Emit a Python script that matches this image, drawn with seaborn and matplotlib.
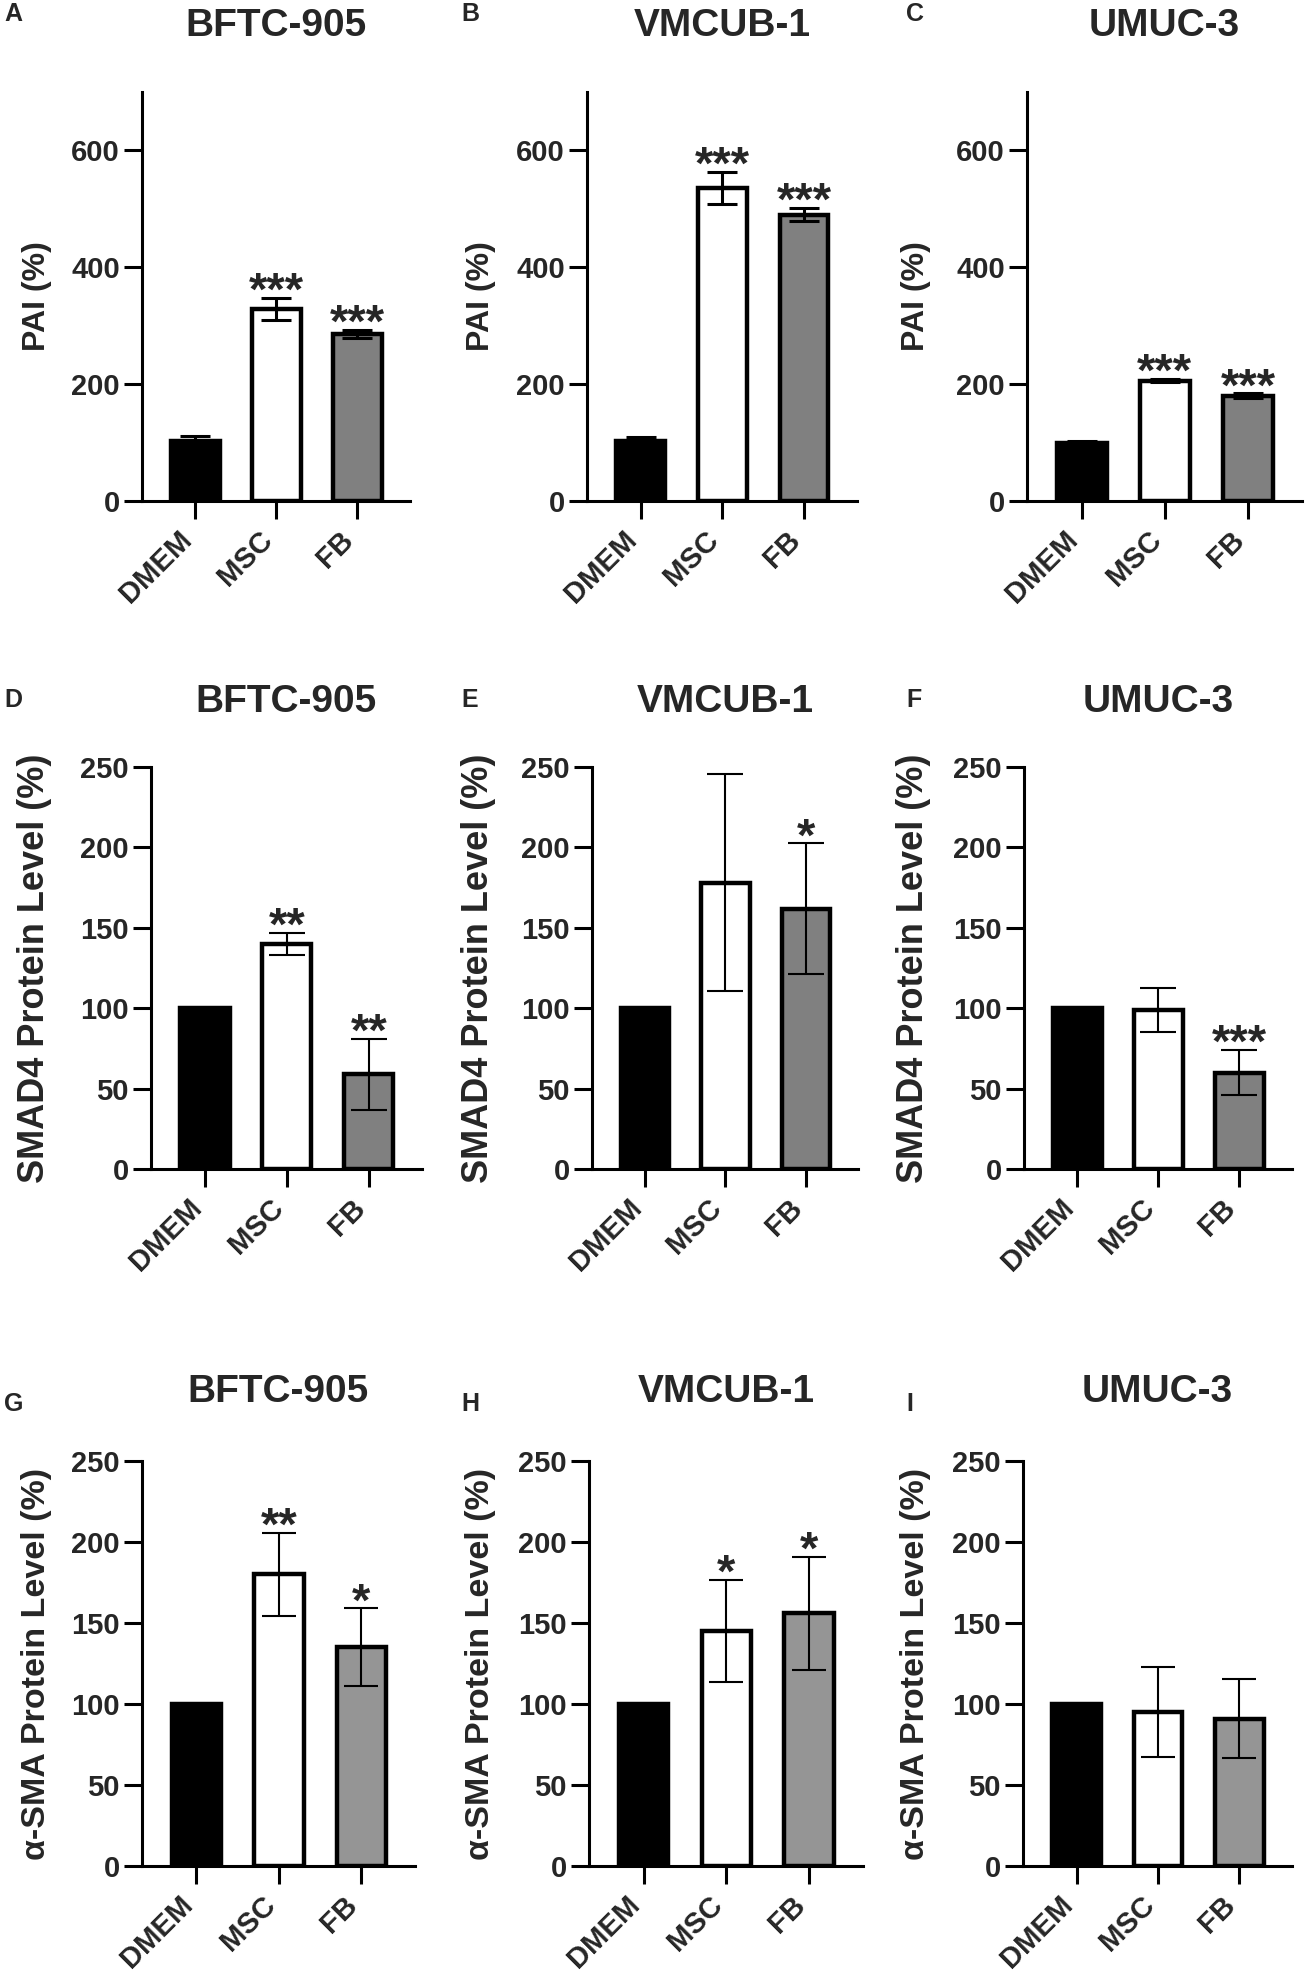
import matplotlib
matplotlib.use("Agg")
import matplotlib.pyplot as plt
import seaborn as sns
import pandas as pd
import numpy as np
from matplotlib.transforms import ScaledTranslation

# ---------------- data ----------------
groups = ["DMEM", "MSC", "FB"]
cell_lines = ["BFTC-905", "VMCUB-1", "UMUC-3"]
panel_letters = ["A", "B", "C", "D", "E", "F", "G", "H", "I"]

# PAI (%)
pai_bftc_mean = [103, 328, 286]
pai_bftc_err = [8, 19, 7]
pai_bftc_sig = ["", "***", "***"]
pai_vmcub_mean = [102, 536, 490]
pai_vmcub_err = [7, 27, 11]
pai_vmcub_sig = ["", "***", "***"]
pai_umuc_mean = [100, 206, 180]
pai_umuc_err = [3, 3, 4]
pai_umuc_sig = ["", "***", "***"]

# SMAD4 Protein Level (%)
smad4_bftc_mean = [100, 140, 59]
smad4_bftc_err = [0, 7, 22]
smad4_bftc_sig = ["", "**", "**"]
smad4_vmcub_mean = [100, 178, 162]
smad4_vmcub_err = [0, 67.5, 40.5]
smad4_vmcub_sig = ["", "", "*"]
smad4_umuc_mean = [100, 99, 60]
smad4_umuc_err = [0, 13.5, 14]
smad4_umuc_sig = ["", "", "***"]

# alpha-SMA Protein Level (%)
asma_bftc_mean = [100, 180, 135]
asma_bftc_err = [0, 25.5, 24]
asma_bftc_sig = ["", "**", "*"]
asma_vmcub_mean = [100, 145, 156]
asma_vmcub_err = [0, 31.5, 35]
asma_vmcub_sig = ["", "*", "*"]
asma_umuc_mean = [100, 95, 91]
asma_umuc_err = [0, 28, 24.5]
asma_umuc_sig = ["", "", ""]

row_ylabels = ["PAI (%)", "SMAD4 Protein Level (%)", "α-SMA Protein Level (%)"]
row_ylim = [700, 250, 250]
row_yticks = [[0, 200, 400, 600], [0, 50, 100, 150, 200, 250], [0, 50, 100, 150, 200, 250]]

rows = [
    [(pai_bftc_mean, pai_bftc_err, pai_bftc_sig),
     (pai_vmcub_mean, pai_vmcub_err, pai_vmcub_sig),
     (pai_umuc_mean, pai_umuc_err, pai_umuc_sig)],
    [(smad4_bftc_mean, smad4_bftc_err, smad4_bftc_sig),
     (smad4_vmcub_mean, smad4_vmcub_err, smad4_vmcub_sig),
     (smad4_umuc_mean, smad4_umuc_err, smad4_umuc_sig)],
    [(asma_bftc_mean, asma_bftc_err, asma_bftc_sig),
     (asma_vmcub_mean, asma_vmcub_err, asma_vmcub_sig),
     (asma_umuc_mean, asma_umuc_err, asma_umuc_sig)],
]

# ---------------- style ----------------
sns.set_style("ticks")
plt.rcParams["font.family"] = ["Liberation Sans", "DejaVu Sans"]
plt.rcParams["font.weight"] = "bold"
plt.rcParams["axes.labelweight"] = "bold"

W, H = 1305, 1978
DPI = 100
fig = plt.figure(figsize=(W / DPI, H / DPI), dpi=DPI)

# layout in pixels: (left, right) per panel, (top, bottom) per row
row_tb = [(92, 501), (767, 1169), (1461, 1866)]
panel_lr = [
    [(142, 410), (587, 857), (1027, 1302)],
    [(151, 422), (592, 858), (1024, 1292)],
    [(142, 415), (589, 863), (1023, 1292)],
]
ylabel_right = [52, 496, 931]
letter_x = [4, 461, 906]
letter_y = [14, 700, 1404]
title_y = [26, 702, 1392]
ylabel_size = [23, 26, 24.5]
gray_row = ["#808080", "#808080", "#959595"]
err_lw = [2.2, 1.5, 1.5]
cap_pt = [11, 13, 12]

for r in range(3):
    top, bot = row_tb[r]
    for c in range(3):
        left, right = panel_lr[r][c]
        ax = fig.add_axes([left / W, 1 - bot / H, (right - left) / W, (bot - top) / H])
        mean, err, sig = rows[r][c]
        df = pd.DataFrame({"group": groups, "value": mean})
        sns.barplot(data=df, x="group", y="value", hue="group",
                    palette=["#000000", "#ffffff", gray_row[r]],
                    width=0.6, edgecolor="black", linewidth=3.2,
                    saturation=1, errorbar=None, legend=False, ax=ax, zorder=2)
        xs = np.arange(len(groups))
        m = np.array(mean, dtype=float)
        e = np.array(err, dtype=float)
        mask = e > 0
        ax.errorbar(xs[mask], m[mask], yerr=e[mask], fmt="none", ecolor="black",
                    elinewidth=err_lw[r], capsize=cap_pt[r], capthick=err_lw[r], zorder=5)
        for i, s in enumerate(sig):
            if s:
                ax.annotate(s, xy=(i, m[i] + e[i]), xytext=(0, -5), textcoords="offset points",
                            ha="center", va="baseline", fontsize=34, fontweight="bold", zorder=6)
        ax.set_xlim(-0.66, 2.65)
        ax.set_ylim(0, row_ylim[r])
        ax.set_yticks(row_yticks[r])
        ax.set_yticklabels([str(t) for t in row_yticks[r]])
        ax.set_xlabel("")
        ax.set_ylabel(row_ylabels[r], fontsize=ylabel_size[r], fontweight="bold")
        ax.yaxis.set_label_coords((ylabel_right[c] - left) / (right - left), 0.5)
        sns.despine(ax=ax)
        for sp in ["left", "bottom"]:
            ax.spines[sp].set_linewidth(2.2)
            ax.spines[sp].set_color("black")
            ax.spines[sp].set_zorder(7)
        ax.tick_params(axis="both", length=13, width=2.2, color="black",
                       labelsize=21, direction="out")
        ax.tick_params(axis="y", pad=3)
        ax.tick_params(axis="x", pad=12)
        for tk in ax.xaxis.get_major_ticks():
            lab = tk.label1
            lab.set_rotation(45)
            lab.set_ha("right")
            lab.set_va("center")
            lab.set_rotation_mode("anchor")
            lab.set_transform(lab.get_transform() + ScaledTranslation(-0.08, 0, fig.dpi_scale_trans))
        # panel title (cell line) centred over the axes
        fig.text((left + right) / 2 / W, 1 - title_y[r] / H, cell_lines[c],
                 ha="center", va="center", fontsize=28, fontweight="bold")
        fig.text(letter_x[c] / W, 1 - letter_y[r] / H, panel_letters[r * 3 + c],
                 ha="left", va="center", fontsize=18, fontweight="bold")

fig.savefig("out.png", dpi=DPI)
